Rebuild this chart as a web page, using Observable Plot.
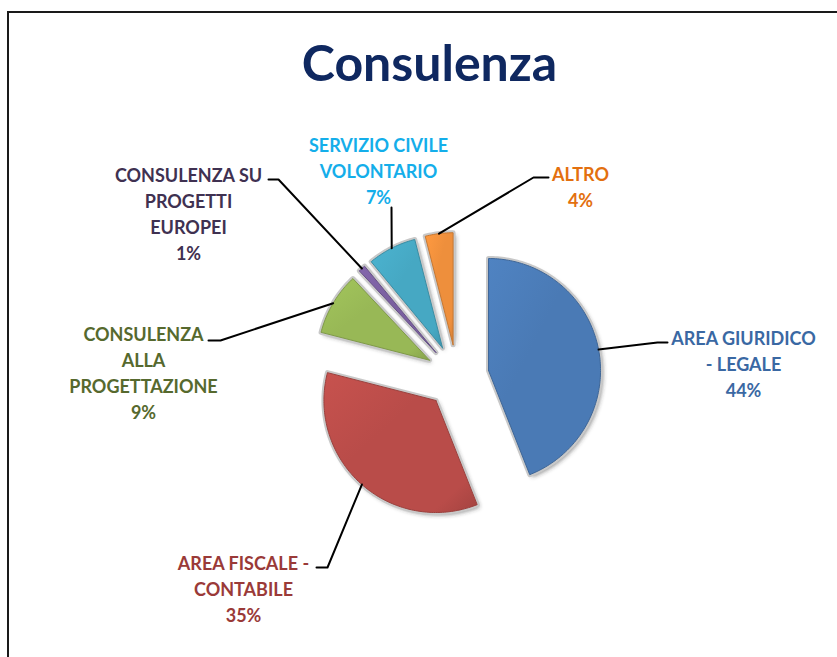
<!DOCTYPE html>
<html>
<head>
<meta charset="utf-8">
<script src="https://cdn.jsdelivr.net/npm/d3@7"></script>
<script src="https://cdn.jsdelivr.net/npm/@observablehq/plot@0.6"></script>
<style>
  html, body { margin: 0; padding: 0; background: #fff; }
  #wrap { position: relative; width: 837px; height: 657px; overflow: hidden; }
  #frame { position: absolute; left: 7px; top: 11px; width: 900px; height: 700px;
           border-left: 2px solid #1a1a1a; border-top: 2px solid #1a1a1a; box-sizing: border-box; }
  #chart { position: absolute; left: 0; top: 0; }
</style>
</head>
<body>
<svg width="0" height="0" style="position:absolute">
  <defs id="defs">
    <filter id="softShadow" x="-20%" y="-20%" width="140%" height="140%">
      <feGaussianBlur stdDeviation="2"/>
    </filter>
  </defs>
</svg>
<div id="wrap">
  <div id="frame"></div>
  <div id="chart"></div>
</div>
<script>
// ---------------- data ----------------
const title = "Consulenza";
const categories = [
  "AREA GIURIDICO - LEGALE",
  "AREA FISCALE - CONTABILE",
  "CONSULENZA ALLA PROGETTAZIONE",
  "CONSULENZA SU PROGETTI EUROPEI",
  "SERVIZIO CIVILE VOLONTARIO",
  "ALTRO"
];
const labelText = [
  "AREA GIURIDICO\n- LEGALE",
  "AREA FISCALE -\nCONTABILE",
  "CONSULENZA\nALLA\nPROGETTAZIONE",
  "CONSULENZA SU\nPROGETTI\nEUROPEI",
  "SERVIZIO CIVILE\nVOLONTARIO",
  "ALTRO"
];
const values = [44, 35, 9, 1, 7, 4];

// ---------------- styles ----------------
const sliceColors = ["#4a7ab5", "#b94c49", "#98b856", "#7a60a0", "#46a8c3", "#ee8f3c"];
const labelColors = ["#3a68a3", "#9a3a38", "#56692e", "#3f3151", "#14aeea", "#e3700f"];

// ---------------- layout ----------------
const W = 837, H = 657;
const cx = 456.6, cy = 376, R = 112, explode = 32;
// label block centre and leader elbow / end (manual label placement as in the source)
const labelLayout = [
  {lx: 743, ly: 362, ex: 657, ey: 342, fx: 667, fy: 342},
  {lx: 243, ly: 587, ex: 327, ey: 567, fx: 316, fy: 567},
  {lx: 143, ly: 371, ex: 220, ey: 340, fx: 208, fy: 340},
  {lx: 188, ly: 212, ex: 278, ey: 179, fx: 268, fy: 179},
  {lx: 378, ly: 169, ex: 391, ey: 207, fx: 391, fy: 207},
  {lx: 580, ly: 185, ex: 533, ey: 177, fx: 548, fy: 177}
];

// gradients for the bevelled look
const defs = d3.select("#defs");
sliceColors.forEach((c, i) => {
  const base = d3.color(c);
  const g = defs.append("linearGradient").attr("id", "grad" + i)
    .attr("x1", "0").attr("y1", "0").attr("x2", "1").attr("y2", "1");
  g.append("stop").attr("offset", "0%").attr("stop-color", base.brighter(0.2).formatHex());
  g.append("stop").attr("offset", "40%").attr("stop-color", base.formatHex());
  g.append("stop").attr("offset", "85%").attr("stop-color", base.formatHex());
  g.append("stop").attr("offset", "100%").attr("stop-color", base.darker(0.35).formatHex());
});

// ---------------- geometry from data ----------------
const arcs = d3.pie().sort(null).value(d => d)(values);
const pt = (ox, oy, r, a) => [ox + r * Math.sin(a), oy - r * Math.cos(a)];

const slices = arcs.map((a, i) => {
  const mid = (a.startAngle + a.endAngle) / 2;
  const [ax, ay] = pt(cx, cy, explode, mid);
  const pts = [{i, x: ax, y: ay}];
  const n = Math.max(4, Math.ceil((a.endAngle - a.startAngle) / 0.02));
  for (let k = 0; k <= n; k++) {
    const t = a.startAngle + (a.endAngle - a.startAngle) * k / n;
    const [x, y] = pt(ax, ay, R, t);
    pts.push({i, x, y});
  }
  pts.push({i, x: ax, y: ay});
  return {i, mid, ax, ay, pts};
});
const allPts = slices.flatMap(s => s.pts);

const leaders = slices.flatMap(s => {
  const L = labelLayout[s.i];
  const [sx, sy] = pt(s.ax, s.ay, R, s.mid);
  return [{i: s.i, x: sx, y: sy}, {i: s.i, x: L.ex, y: L.ey}, {i: s.i, x: L.fx, y: L.fy}];
});

const labels = values.map((v, i) => ({
  text: labelText[i] + "\n" + v + "%",
  x: labelLayout[i].lx, y: labelLayout[i].ly, color: labelColors[i]
}));

const marks = [];
// 0: shadow
marks.push(Plot.line(allPts, {x: "x", y: "y", z: "i", fill: "#333",
  fillOpacity: 0.55, stroke: "none", dx: 2.5, dy: 2.5}));
// 1: halo
marks.push(Plot.line(allPts, {x: "x", y: "y", z: "i", fill: "#e6e6e6",
  stroke: "#c8c8c8", strokeWidth: 5, strokeLinejoin: "round"}));
// slices
slices.forEach(s => {
  marks.push(Plot.line(s.pts, {x: "x", y: "y", fill: `url(#grad${s.i})`,
    stroke: d3.color(sliceColors[s.i]).darker(0.5).formatHex(), strokeWidth: 1,
    strokeLinejoin: "round"}));
});
marks.push(Plot.line(leaders, {x: "x", y: "y", z: "i", stroke: "#000", strokeWidth: 2}));
marks.push(Plot.text(labels, {x: "x", y: "y", text: "text", fill: "color",
  fontSize: 18, fontWeight: "bold", lineHeight: 1.44, textAnchor: "middle", lineAnchor: "middle"}));
marks.push(Plot.text([title], {frameAnchor: "top", x: () => 429, dy: 80, text: d => d,
  fontSize: 50, fontWeight: "bold", fill: "#0f2860", lineAnchor: "bottom"}));

const chart = Plot.plot({
  width: W, height: H,
  margin: 0,
  style: {fontFamily: "Lato, 'Open Sans', sans-serif", background: "transparent"},
  x: {domain: [0, W], range: [0, W], axis: null},
  y: {domain: [0, H], range: [0, H], axis: null},
  color: {type: "identity"},
  marks
});
// soft blur on the shadow layer (first line group)
d3.select(chart).select("g[aria-label='line']").attr("filter", "url(#softShadow)");
document.getElementById("chart").appendChild(chart);
</script>
</body>
</html>
